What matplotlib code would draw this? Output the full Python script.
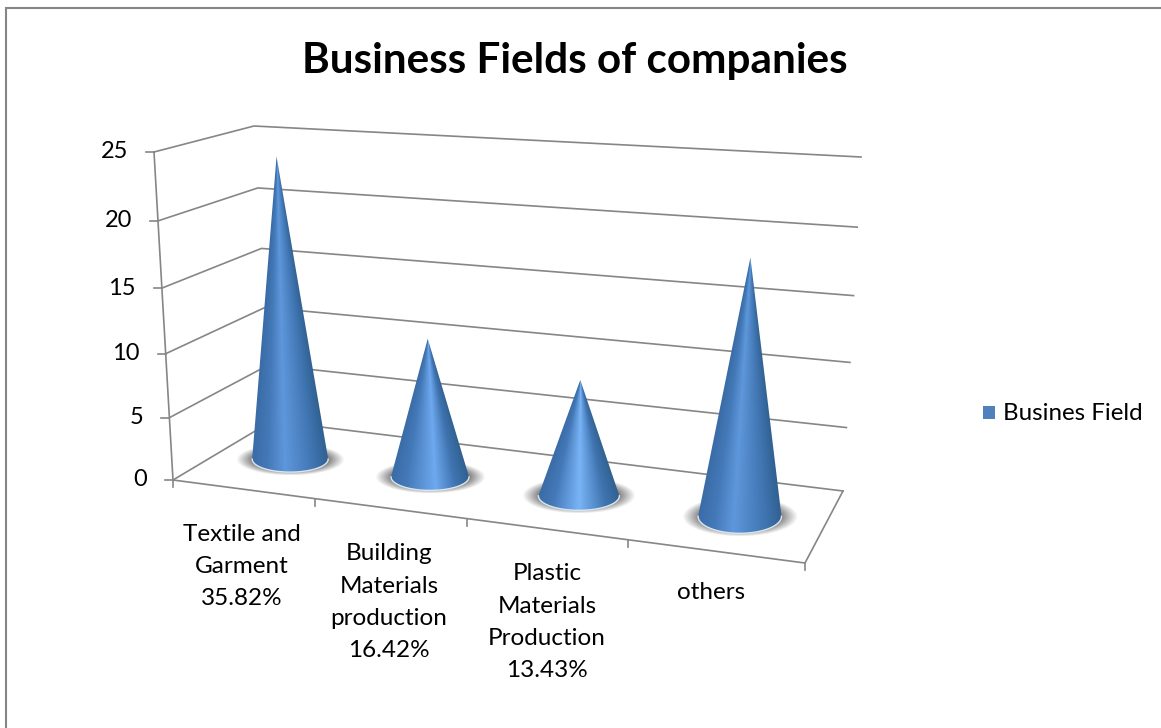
import numpy as np
import matplotlib
matplotlib.use('Agg')
import matplotlib.pyplot as plt
from matplotlib.patches import Rectangle, PathPatch
from matplotlib.path import Path
from matplotlib.colors import to_rgb

# chart data
categories = ["Textile and\nGarment\n35.82%", "Building\nMaterials\nproduction\n16.42%",
              "Plastic\nMaterials\nProduction\n13.43%", "others"]
values = [24, 11, 9, 19]
y_ticks = [0, 5, 10, 15, 20, 25]
title = "Business Fields of companies"
series_name = "Busines Field"

# 3d box corners in pixels: front-left, front-right, back-right, back-left
floor_box = np.array([[173, 480], [805, 563], [843, 491], [272, 421]], dtype=float)
ceil_box = np.array([[154, 152], [826, 195], [861, 157], [254, 126]], dtype=float)
slot_edges = [0, 0.225, 0.465, 0.72, 1]      # category edges along the front edge
tick_height = [0, 0.19, 0.385, 0.585, 0.79, 1]  # perspective spacing of the value axis

# cone look
base_rx = [38, 39, 40.5, 41.7]
base_ry = [13, 13.5, 14.5, 17]
peak_color = ['#5f97dc', '#6ea8ee', '#79b4f7', '#5e97db']
peak_pos = [-0.15, 0.12, 0.0, -0.15]

GRAY = '#868686'
BAR_BLUE = '#4f81bd'


def bilinear(box, u, d):
    front = box[0] + (box[1] - box[0]) * u
    back = box[3] + (box[2] - box[3]) * u
    return front + (back - front) * d


def project(u, d, v):
    f = np.interp(v, y_ticks, tick_height)
    low = bilinear(floor_box, u, d)
    high = bilinear(ceil_box, u, d)
    return low + (high - low) * f


def draw_shadow(ax, cx, cy, rx, ry):
    a, b = rx + 16, ry + 3
    xs = np.arange(cx - a - 2, cx + a + 3)
    ys = np.arange(cy - b - 2, cy + b + 3)
    X, Y = np.meshgrid(xs, ys)
    r = np.sqrt(((X - cx) / a) ** 2 + ((Y - cy) / b) ** 2)
    img = np.zeros(X.shape + (4,))
    img[..., :3] = to_rgb('#555555')
    img[..., 3] = np.clip((1 - r) / 0.32, 0, 1) * 0.8
    ax.imshow(img, extent=(xs[0] - .5, xs[-1] + .5, ys[-1] + .5, ys[0] - .5),
              aspect='auto', interpolation='bilinear', zorder=3)


def draw_cone(ax, base, apex, rx, ry, peak, pos):
    cx, cy = base
    ax_x, ax_y = apex
    # outline: apex, down the sides and round the lower half of the base
    ang = np.linspace(np.pi, 0, 60)
    px = np.r_[ax_x, cx + rx * np.cos(ang), ax_x]
    py = np.r_[ax_y, cy + ry * np.sin(ang), ax_y]
    outline = PathPatch(Path(np.c_[px, py]), transform=ax.transData, fc='none', ec='none')
    ax.add_patch(outline)

    xs = np.arange(np.floor(px.min()) - 1, np.ceil(px.max()) + 2)
    ys = np.arange(np.floor(ax_y) - 1, np.ceil(cy + ry) + 2)
    X, Y = np.meshgrid(xs, ys)
    frac = np.clip((Y - ax_y) / (cy - ax_y), 1e-3, None)
    t = (X - (ax_x + (cx - ax_x) * frac)) / (rx * frac)
    stops = [-1, -0.6, pos, 0.6, 1]
    cols = np.array([to_rgb(c) for c in ['#3a6ca6', '#4479b8', peak, '#3f74b0', '#30608f']])
    img = np.dstack([np.interp(t, stops, cols[:, i]) for i in range(3)])
    im = ax.imshow(img, extent=(xs[0] - .5, xs[-1] + .5, ys[-1] + .5, ys[0] - .5),
                   aspect='auto', interpolation='bilinear', zorder=4)
    im.set_clip_path(outline)

    # pale rim along the front of the base
    ax.plot(cx + rx * np.cos(ang), cy + ry * np.sin(ang), color='#dbe6f0', lw=1.0, zorder=5)


fig = plt.figure(figsize=(11.61, 7.28), dpi=100)
ax = fig.add_axes([0, 0, 1, 1])
ax.axis('off')
plt.rcParams['font.family'] = ['Lato', 'DejaVu Sans']

# chart frame: only the top and left edges fall inside the image
ax.plot([6, 6, 1161], [728, 8, 8], color=GRAY, lw=1.5, zorder=1, solid_joinstyle='miter')

# gridlines: side wall, back wall and value ticks
for v in y_ticks:
    pts = np.array([project(0, 0, v), project(0, 1, v), project(1, 1, v)])
    ax.plot(pts[:, 0], pts[:, 1], color=GRAY, lw=1.2, zorder=2)
    ax.plot([pts[0, 0] - 8, pts[0, 0]], [pts[0, 1], pts[0, 1]], color=GRAY, lw=1.2, zorder=2)
    ax.text(pts[0, 0] - 26, pts[0, 1], str(v), ha='right', va='center', fontsize=17, color='black')

# axis lines
left_wall = np.array([project(0, 0, 0), project(0, 0, y_ticks[-1])])
ax.plot(left_wall[:, 0], left_wall[:, 1], color=GRAY, lw=1.2, zorder=2)
floor_edge = np.array([project(0, 0, 0), project(1, 0, 0), project(1, 1, 0)])
ax.plot(floor_edge[:, 0], floor_edge[:, 1], color=GRAY, lw=1.2, zorder=2)
for u in slot_edges:
    x0, y0 = project(u, 0, 0)
    ax.plot([x0, x0], [y0, y0 + 7], color=GRAY, lw=1.2, zorder=2)

# cones
for i, val in enumerate(values):
    u = (slot_edges[i] + slot_edges[i + 1]) / 2
    base = project(u, 0.5, 0)
    apex = project(u, 0.5, val)
    draw_shadow(ax, base[0], base[1], base_rx[i], base_ry[i])
    draw_cone(ax, base, apex, base_rx[i], base_ry[i], peak_color[i], peak_pos[i])

# category labels hang below the front edge, placed by their last baseline
label_x = [242, 389, 547, 711]
label_y = [605, 657, 677, 599]
for name, lx, ly in zip(categories, label_x, label_y):
    ax.text(lx, ly, name, ha='center', va='baseline', fontsize=17.5, linespacing=1.66,
            multialignment='center', color='black')

ax.text(574.5, 73, title, ha='center', va='baseline', fontsize=30.4, fontweight='bold', color='black')

# legend
ax.add_patch(Rectangle((982.5, 406), 12.5, 13, fc=BAR_BLUE, ec='none', zorder=3))
ax.text(1003, 413, series_name, ha='left', va='center', fontsize=17.4, color='black')

ax.set_xlim(0, 1161)
ax.set_ylim(728, 0)
fig.savefig('out.png', dpi=100)
plt.close(fig)
